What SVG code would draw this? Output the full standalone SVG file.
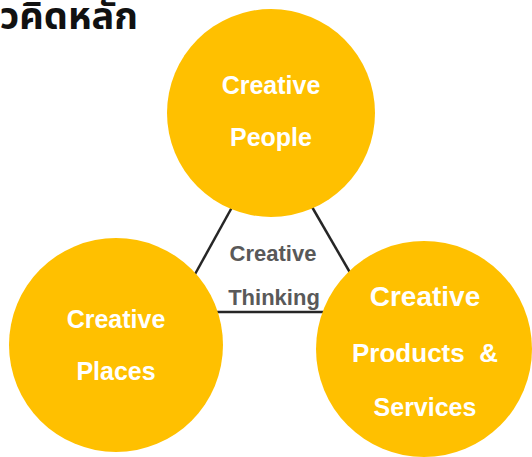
<svg xmlns="http://www.w3.org/2000/svg" width="532" height="457" viewBox="0 0 532 457">
<style>
.c{fill:#FFC000}
.w{fill:#fff;font-family:"Liberation Sans",Arial,sans-serif;font-weight:bold;text-anchor:middle}
.g{fill:#595959;font-family:"Liberation Sans",Arial,sans-serif;font-weight:bold;text-anchor:middle;font-size:22px}
.l{stroke:#262626;stroke-width:2.5;fill:none}
</style>
<rect width="532" height="457" fill="#fff"/>
<text x="138" y="29" font-family="'Noto Sans', 'Noto Sans Thai', sans-serif" font-weight="bold" font-size="38" text-anchor="end" fill="#111">แนวคิดหลัก</text>
<g id="connectors">
<line class="l" x1="236" y1="200" x2="194" y2="276"/>
<line class="l" x1="308" y1="200" x2="352" y2="276"/>
<line class="l" x1="215" y1="312" x2="325" y2="312"/>
</g>
<g id="thinking">
<text class="g" x="273" y="261">Creative</text>
<text class="g" x="274" y="305">Thinking</text>
</g>
<g id="people">
<circle class="c" cx="271" cy="113" r="104"/>
<text class="w" x="271" y="94" font-size="25">Creative</text>
<text class="w" x="271" y="146" font-size="25">People</text>
</g>
<g id="places">
<circle class="c" cx="116" cy="345" r="107"/>
<text class="w" x="116" y="328" font-size="25">Creative</text>
<text class="w" x="116" y="380" font-size="25">Places</text>
</g>
<g id="products">
<circle class="c" cx="424" cy="349" r="108"/>
<text class="w" x="425" y="306" font-size="28">Creative</text>
<text class="w" x="425" y="362" font-size="26" xml:space="preserve">Products  &amp;</text>
<text class="w" x="425" y="416" font-size="25">Services</text>
</g>
</svg>
